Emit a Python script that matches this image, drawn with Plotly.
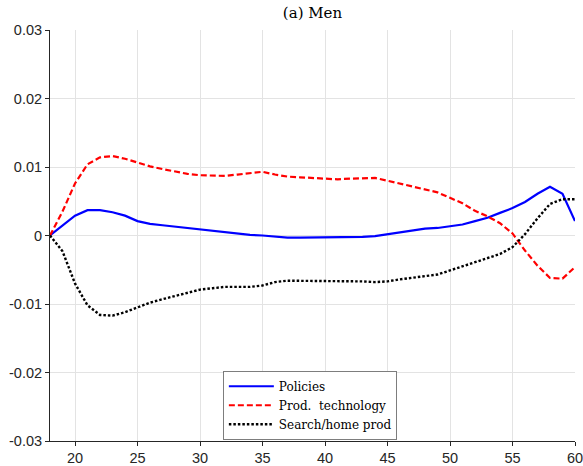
import plotly.graph_objects as go

ages = list(range(18, 61))

policies = [0, 0.0015, 0.0029, 0.0037, 0.0037, 0.0034, 0.0029, 0.0021, 0.0017, 0.0015,
            0.0013, 0.0010, 0.0008, 0.0006, 0.0004, 0.0003, 0.0001, 0.0000, -0.0002, -0.0003,
            -0.0003, -0.0003, -0.0003, -0.0003, -0.0003, -0.0002, -0.0001, 0.0002, 0.0005, 0.0008,
            0.0010, 0.0011, 0.0013, 0.0016, 0.0021, 0.0026, 0.0033, 0.0040, 0.0049, 0.0061,
            0.0071, 0.0061, 0.0021]

prod_tech = [0, 0.0035, 0.0076, 0.0104, 0.0114, 0.0116, 0.0112, 0.0106, 0.0101, 0.0097,
             0.0093, 0.0090, 0.0088, 0.0087, 0.0087, 0.0089, 0.0091, 0.0093, 0.0089, 0.0086,
             0.0085, 0.0084, 0.0083, 0.0082, 0.0083, 0.0083, 0.0084, 0.0080, 0.0076, 0.0072,
             0.0068, 0.0063, 0.0055, 0.0047, 0.0036, 0.0028, 0.0018, 0.0003, -0.0022, -0.0044,
             -0.0062, -0.0063, -0.0046]

search_home = [0, -0.0023, -0.0070, -0.0102, -0.0116, -0.0117, -0.0112, -0.0105, -0.0098, -0.0093,
               -0.0088, -0.0083, -0.0079, -0.0077, -0.0075, -0.0075, -0.0075, -0.0073, -0.0068, -0.0066,
               -0.0066, -0.0066, -0.0066, -0.0066, -0.0066, -0.0067, -0.0068, -0.0067, -0.0064, -0.0062,
               -0.0060, -0.0057, -0.0051, -0.0045, -0.0039, -0.0034, -0.0027, -0.0017, 0.0002, 0.0025,
               0.0046, 0.0053, 0.0053]

x_ticks = [20, 25, 30, 35, 40, 45, 50, 55, 60]
y_ticks = [-0.03, -0.02, -0.01, 0, 0.01, 0.02, 0.03]
y_tick_labels = ["-0.03", "-0.02", "-0.01", "0", "0.01", "0.02", "0.03"]

SERIF = "DejaVu Serif"
SANS = "Liberation Sans"

fig = go.Figure()
fig.add_trace(go.Scatter(x=ages, y=policies, mode="lines", name="Policies",
                         line=dict(color="#0000ff", width=2.2)))
fig.add_trace(go.Scatter(x=ages, y=prod_tech, mode="lines", name="Prod.  technology",
                         line=dict(color="#ff0000", width=2.2, dash="6px,3px")))
fig.add_trace(go.Scatter(x=ages, y=search_home, mode="lines", name="Search/home prod",
                         line=dict(color="#000000", width=2.4, dash="2.5px,2px")))

axis_common = dict(
    showgrid=True, gridcolor="#e3e3e3", gridwidth=1,
    showline=True, linecolor="#262626", linewidth=1,
    ticks="outside", ticklen=4, tickcolor="#262626",
    tickfont=dict(family=SANS, size=14.5, color="#262626"),
    zeroline=False, automargin=False, ticklabeloverflow="allow",
)

fig.update_layout(
    width=583, height=466,
    margin=dict(l=50, r=8, t=30, b=25),
    paper_bgcolor="white", plot_bgcolor="white",
    title=dict(text="(a) Men", x=(50 + 575) / 2 / 583, xanchor="center",
               y=1 - 13 / 466, yanchor="middle", yref="container",
               font=dict(family=SERIF, size=15, color="#000000")),
    xaxis=dict(range=[18, 60], tickvals=x_ticks, **axis_common),
    yaxis=dict(range=[-0.03, 0.03], tickvals=y_ticks, ticktext=y_tick_labels, **axis_common),
    legend=dict(x=0.33, y=0.17, xanchor="left", yanchor="top",
                bgcolor="white", bordercolor="#262626", borderwidth=0.6,
                font=dict(family=SERIF, size=12, color="#000000"),
                tracegroupgap=0, itemwidth=45),
    showlegend=True,
)

fig.write_html("out.html")
